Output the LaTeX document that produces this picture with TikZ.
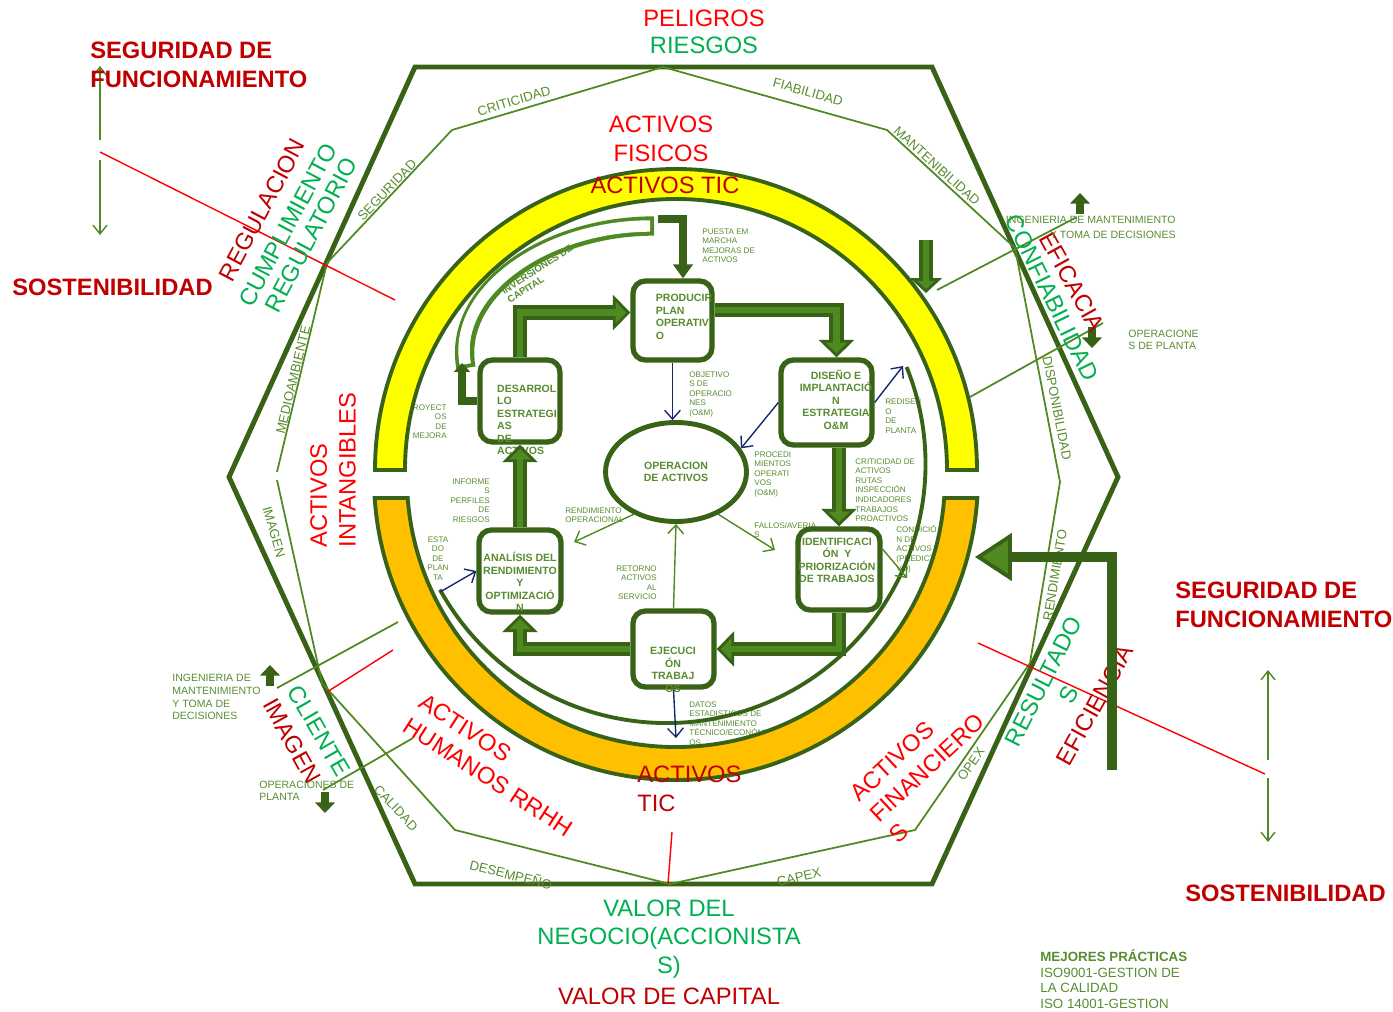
\documentclass[tikz,border=0pt]{standalone}
\usepackage{fontspec}
\setmainfont{Liberation Sans}
\usetikzlibrary{positioning}
\usetikzlibrary{calc}
\usetikzlibrary{arrows.meta}
\usetikzlibrary{shapes.geometric}

\definecolor{dkgreen}{RGB}{56,98,22}
\definecolor{ltgreen}{RGB}{78,138,33}
\definecolor{olive}{RGB}{88,140,48}
\definecolor{vgreen}{RGB}{0,176,80}
\definecolor{dred}{RGB}{192,0,0}
\definecolor{bred}{RGB}{255,0,0}
\definecolor{navy}{RGB}{25,40,110}
\definecolor{ringyellow}{RGB}{255,255,0}
\definecolor{ringorange}{RGB}{255,192,0}

\begin{document}
\begin{tikzpicture}[x=0.02cm, y=-0.02cm]
                % Diagram style
                \tikzset{
                    big/.style={font=\fontsize{13.5}{16.4}\selectfont, inner sep=0pt, align=center},
                    bigbold/.style={font=\bfseries\fontsize{13.5}{16.4}\selectfont, inner sep=0pt, align=left},
                    hexlbl/.style={font=\fontsize{7.5}{9}\selectfont, text=olive, inner sep=0pt},
                    note/.style={font=\fontsize{4.6}{5.5}\selectfont, text=olive, inner sep=0pt},
                    sidenote/.style={font=\fontsize{6}{7.2}\selectfont, text=olive, inner sep=0pt},
                    stepbox/.style={draw=dkgreen, line width=3pt, rounded corners=7pt, fill=white},
                    boxtext/.style={font=\bfseries\fontsize{6}{7.1}\selectfont, text=olive, inner sep=0pt},
                    bigarrow/.style={dkgreen, line width=8pt,
                        -{Triangle[width=20pt,length=10pt,fill=ltgreen,line width=1.6pt]},
                        postaction={draw=ltgreen, line width=3.5pt, shorten >=5pt, -}},
                    infoarrow/.style={navy, line width=0.8pt, -{Straight Barb[length=5pt,width=9pt]}},
                    flowarrow/.style={ltgreen, line width=0.8pt, -{Straight Barb[length=5pt,width=9pt]}},
                    thinarrow/.style={ltgreen, line width=0.8pt, -{Straight Barb[length=5pt,width=8pt]}},
                    blockup/.style={dkgreen, line width=4.5pt, -{Triangle[width=11pt,length=6pt]}},
                    thinline/.style={ltgreen, line width=1pt},
                    redline/.style={bred, line width=0.8pt}
                }
                \useasboundingbox (0,0) rectangle (1393,1011);

                % Hexagon and inner polygon
                \draw[dkgreen, line width=2.8pt] (415,67) -- (932,67) -- (1118,477) -- (932,884)
                    -- (415,884) -- (229,477) -- cycle;
                \draw[thinline] (277,480) -- (322,683) -- (455,830) -- (670,884) -- (915,830)
                    -- (1030,663) -- (1060,482) -- (1015,248) -- (887,130) -- (663,67)
                    -- (452,130) -- (327,263) -- (277,472);

                % Hexagon labels
                \node[hexlbl, rotate=16.6] (lcrit) at (514,101) {CRITICIDAD};
                \node[hexlbl, rotate=-15.7] (lfiab) at (808,92) {FIABILIDAD};
                \node[hexlbl, rotate=-42] (lmant) at (937,166) {MANTENIBILIDAD};
                \node[hexlbl, rotate=46] (lsegu) at (387,190) {SEGURIDAD};
                \node[hexlbl, rotate=76.5] (lmedio) at (293,380) {MEDIOAMBIENTE};
                \node[hexlbl, rotate=-74] (limag) at (274,532) {IMAGEN};
                \node[hexlbl, rotate=-47] (lcali) at (396,808) {CALIDAD};
                \node[hexlbl, rotate=-14] (ldese) at (511,874) {DESEMPEÑO};
                \node[hexlbl, rotate=12.4] (lcapex) at (799,877) {CAPEX};
                \node[hexlbl, rotate=55] (lopex) at (971,764) {OPEX};
                \node[hexlbl, rotate=80.6] (lrend) at (1055,575) {RENDIMIENTO};
                \node[hexlbl, rotate=-79] (ldisp) at (1057,408) {DISPONIBILIDAD};

                % Outer axes
                \draw[redline] (100,152) -- (395,300);
                \draw[redline] (978,643) -- (1265,774);
                \draw[redline] (327,692) -- (393,650);
                \draw[redline] (672,832) -- (668,884);
                \draw[thinarrow] (100,140) -- (100,66);
                \draw[thinarrow] (100,160) -- (100,235);
                \draw[thinarrow] (1268,760) -- (1268,670);
                \draw[thinarrow] (1268,778) -- (1268,842);
                \draw[thinline] (937,290) -- (1077,217);
                \draw[thinline] (970,397) -- (1103,323);
                \draw[thinline] (277,688) -- (398,622);
                \draw[thinline] (323,790) -- (413,738);
                \draw[blockup] (1080,214) -- (1080,193);
                \draw[blockup] (1092,327) -- (1092,348);
                \draw[blockup] (270,686) -- (270,665);
                \draw[blockup] (325,792) -- (325,813);

                % Outer texts
                \node[big, text=bred] (peligros) at (704,18) {PELIGROS};
                \node[big, text=vgreen] (riesgos) at (704,45) {RIESGOS};
                \node[bigbold, text=dred, anchor=west] (segizq) at (90,65) {SEGURIDAD DE\\FUNCIONAMIENTO};
                \node[bigbold, text=dred, anchor=west] (sostizq) at (12,287) {SOSTENIBILIDAD};
                \node[bigbold, text=dred, anchor=west] (segder) at (1175,605) {SEGURIDAD DE\\FUNCIONAMIENTO};
                \node[bigbold, text=dred, anchor=west] (sostder) at (1185,893) {SOSTENIBILIDAD};
                \node[big, text=bred] (fisicos) at (661,138.5) {ACTIVOS\\FISICOS};
                \node[big, text=bred, rotate=90, align=left] (intang) at (333,470) {ACTIVOS\\INTANGIBLES};
                \node[big, text=dred, rotate=62] (regul) at (262,210) {REGULACION};
                \node[big, text=vgreen, rotate=62] (cumpl) at (288,225) {CUMPLIMIENTO};
                \node[big, text=vgreen, rotate=62] (regla) at (311,235) {REGULATORIO};
                \node[big, text=vgreen, rotate=-64] (confia) at (1052,298) {CONFIABILIDAD};
                \node[big, text=dred, rotate=-61] (eficacia) at (1072,282) {EFICACIA};
                \node[big, text=vgreen, rotate=63] (result) at (1056,688) {RESULTADO\\S};
                \node[big, text=dred, rotate=61] (eficiencia) at (1095,705) {EFICIENCIA};
                \node[big, text=vgreen, rotate=-60] (cliente) at (319,731) {CLIENTE};
                \node[big, text=dred, rotate=-61] (imagen) at (292,741) {IMAGEN};
                \node[big, text=bred, rotate=-33, align=left] (humanos) at (496,765) {ACTIVOS\\HUMANOS RRHH};
                \node[big, text=bred, rotate=43, align=left] (financ) at (927,768) {ACTIVOS\\FINANCIERO\\S};
                \node[big, text=vgreen] (valor) at (669,939) {VALOR DEL\\NEGOCIO(ACCIONISTA\\S)};
                \node[big, text=dred] (capital) at (669,996) {VALOR DE CAPITAL};

                % Side notes
                \node[sidenote, font=\fontsize{6}{8.5}\selectfont, align=right, anchor=north east] (ingder) at (1176,216)
                    {INGENIERIA DE MANTENIMIENTO\\Y TOMA DE DECISIONES};
                \node[sidenote, font=\fontsize{6}{6.8}\selectfont, align=left, anchor=north west] (opder) at (1128,330)
                    {OPERACIONE\\S DE PLANTA};
                \node[sidenote, align=left, anchor=north west] (ingizq) at (172,674)
                    {INGENIERIA DE\\MANTENIMIENTO\\Y TOMA DE\\DECISIONES};
                \node[sidenote, font=\fontsize{6}{6.8}\selectfont, align=left, anchor=north west] (opizq) at (259,781)
                    {OPERACIONES DE\\PLANTA};
                \node[sidenote, font=\fontsize{7.6}{9}\selectfont, align=left, anchor=north west] (mejores) at (1040,949)
                    {\textbf{MEJORES PRÁCTICAS}\\ISO9001-GESTION DE\\LA CALIDAD\\ISO 14001-GESTION};

                % Small notes inside the ring
                \node[note, align=left, anchor=north west] (npuesta) at (702,228) {PUESTA EM\\MARCHA\\MEJORAS DE\\ACTIVOS};
                \node[note, align=left, anchor=north west] (nobj) at (689,371) {OBJETIVO\\S DE\\OPERACIO\\NES\\(O\&M)};
                \node[note, align=right, anchor=north east] (nproy) at (447,404) {PROYECT\\OS\\DE\\MEJORA};
                \node[note, align=right, anchor=north east] (ninfo) at (490,478) {INFORME\\S\\PERFILES\\DE\\RIESGOS};
                \node[note, align=center, anchor=north] (nestado) at (438,536) {ESTA\\DO\\DE\\PLAN\\TA};
                \node[note, align=left, anchor=north west] (nrend) at (565,507) {RENDIMIENTO\\OPERACIONAL};
                \node[note, align=right, anchor=north east] (nret) at (657,565) {RETORNO\\ACTIVOS\\AL\\SERVICIO};
                \node[note, align=left, anchor=north west] (nproc) at (754,451) {PROCEDI\\MIENTOS\\OPERATI\\VOS\\(O\&M)};
                \node[note, align=left, anchor=north west] (nfallos) at (754,522) {FALLOS/AVERIA\\S};
                \node[note, align=left, anchor=north west] (nredis) at (885,397) {REDISEÑ\\O\\DE\\PLANTA};
                \node[note, align=left, anchor=north west] (ncrit) at (855,458)
                    {CRITICIDAD DE\\ACTIVOS\\RUTAS\\INSPECCIÓN\\INDICADORES\\TRABAJOS\\PROACTIVOS};
                \node[note, align=left, anchor=north west] (ncond) at (896,525) {CONDICIÓ\\N DE\\ACTIVOS\\(PREDICTI\\VO)};
                \node[note, align=left, anchor=north west] (ndatos) at (689,701)
                    {DATOS\\ESTADISTICOS DE\\MANTENIMIENTO\\TÉCNICO/ECONÓMIC\\OS};

                % Rings
                \draw[dkgreen, line width=2.2pt, fill=ringyellow] (977,470) arc[start angle=0, end angle=-180, radius=301]
                    -- (405,470) arc[start angle=-180, end angle=0, radius=271] -- cycle;
                \draw[dkgreen, line width=2.2pt, fill=ringorange] (977.3,498) arc[start angle=3.8, end angle=176.2, radius=302]
                    -- (407.7,498) arc[start angle=175.74, end angle=4.26, radius=269] -- cycle;
                \draw[dkgreen, line width=2.2pt] (906.6,367) arc[start angle=-22, end angle=151, radius=259];
                \node[big, text=dred] (ticarriba) at (665,185) {ACTIVOS TIC};
                \node[big, text=dred, align=left, anchor=west] (ticabajo) at (637,789) {ACTIVOS\\TIC};
                \coordinate (arcini) at (903,366);
                \coordinate (arcfin) at (440,592);

                % Process boxes
                \node[stepbox, minimum width=1.58cm, minimum height=1.58cm] (producir) at (672.5,320.5) {};
                \node[stepbox, minimum width=1.6cm, minimum height=1.64cm] (desarrollo) at (520,401) {};
                \node[stepbox, minimum width=1.82cm, minimum height=1.7cm] (diseno) at (826.5,402.5) {};
                \node[stepbox, minimum width=1.64cm, minimum height=1.62cm] (identif) at (839,569.5) {};
                \node[stepbox, minimum width=1.62cm, minimum height=1.52cm] (ejecucion) at (673.5,649) {};
                \node[stepbox, minimum width=1.64cm, minimum height=1.64cm] (analisis) at (520,571) {};
                \node[draw=dkgreen, line width=2.8pt, fill=white, ellipse, minimum width=2.82cm, minimum height=1.98cm,
                    boxtext, align=center] (operacion) at (676,472) {OPERACION\\DE ACTIVOS};

                \node[boxtext, align=left] (producirtxt) at (684,317) {PRODUCIR\\PLAN\\OPERATIV\\O};
                \node[boxtext, align=left] (desarrollotxt) at (527,420) {DESARROL\\LO\\ESTRATEGI\\AS\\DE\\ACTIVOS};
                \node[boxtext, align=center] (disenotxt) at (836,399.5) {DISEÑO E\\IMPLANTACIÓ\\N\\ESTRATEGIA\\O\&M};
                \node[boxtext, align=center] (identiftxt) at (837,560.5) {IDENTIFICACI\\ÓN~~Y\\PRIORIZACIÓN\\DE TRABAJOS};
                \node[boxtext, align=center] (ejecuciontxt) at (673,670) {EJECUCI\\ÓN\\TRABAJ\\OS};
                \node[boxtext, align=center] (analisistxt) at (520,582) {ANALÍSIS DEL\\RENDIMIENTO\\Y\\OPTIMIZACIÓ\\N};

                % Main cycle
                \draw[bigarrow] (desarrollo.north) |- ([yshift=0.16cm]producir.west);
                \draw[bigarrow] ([yshift=0.21cm]producir.east) -| ([xshift=0.2cm]diseno.north);
                \draw[bigarrow] (identif.north |- diseno.south) -- (identif.north);
                \draw[bigarrow] (identif.south) |- (ejecucion.east);
                \draw[bigarrow] (ejecucion.west) -| (analisis.south);
                \draw[bigarrow] (analisis.north) -- (desarrollo.south);

                % Capital investment loop
                \coordinate (invini) at (462,363);
                \coordinate (invfin) at (658,219);
                \draw[ltgreen, line width=11pt, postaction={draw=white, line width=6.5pt, shorten <=2.2pt, shorten >=2.2pt}]
                    (466,368) .. controls (452,292) and (545,226) .. (654,226);
                \draw[dkgreen, line width=4.5pt, -{Triangle[width=9pt,length=5pt]}] (desarrollo.west) -| (invini);
                \draw[dkgreen, line width=4.5pt, -{Triangle[width=11pt,length=8pt]}] (invfin) -| ([xshift=0.21cm]producir.north);
                \node[boxtext, font=\bfseries\fontsize{5.5}{6}\selectfont, rotate=33, align=left] (inversion) at (540,274)
                    {INVERSIONES DE\\CAPITAL};

                % Information flows
                \coordinate (redisfin) at (arcini);
                \coordinate (datosfin) at (676,738);
                \coordinate (rendfin) at (574,542);
                \coordinate (fallosfin) at (775,550);
                \coordinate (condfin) at (907,578);
                \draw[infoarrow] (producir.south) -- (producir.south |- operacion.north);
                \draw[infoarrow] (diseno.west) -- (operacion.20);
                \draw[infoarrow] (diseno.east) -- (redisfin);
                \draw[infoarrow] (ejecucion.south) -- (datosfin);
                \draw[infoarrow] (arcfin) -- (analisis.west);
                \draw[flowarrow] (operacion.225) -- (rendfin);
                \draw[flowarrow] (ejecucion.north) -- (operacion.south);
                \draw[flowarrow] (operacion.315) -- (fallosfin);
                \draw[flowarrow] (identif.25) -- (condfin);

                % Pressure arrows
                \draw[bigarrow, -{Triangle[width=18pt,length=8.5pt,fill=ltgreen,line width=1.6pt]}] (926,240) -- (926,293);
                \draw[dkgreen, line width=5.5pt, -{Triangle[width=27pt,length=21pt,fill=ltgreen,line width=2.2pt]}]
                    (1112,770) |- (975,557);
\end{tikzpicture}
\end{document}
